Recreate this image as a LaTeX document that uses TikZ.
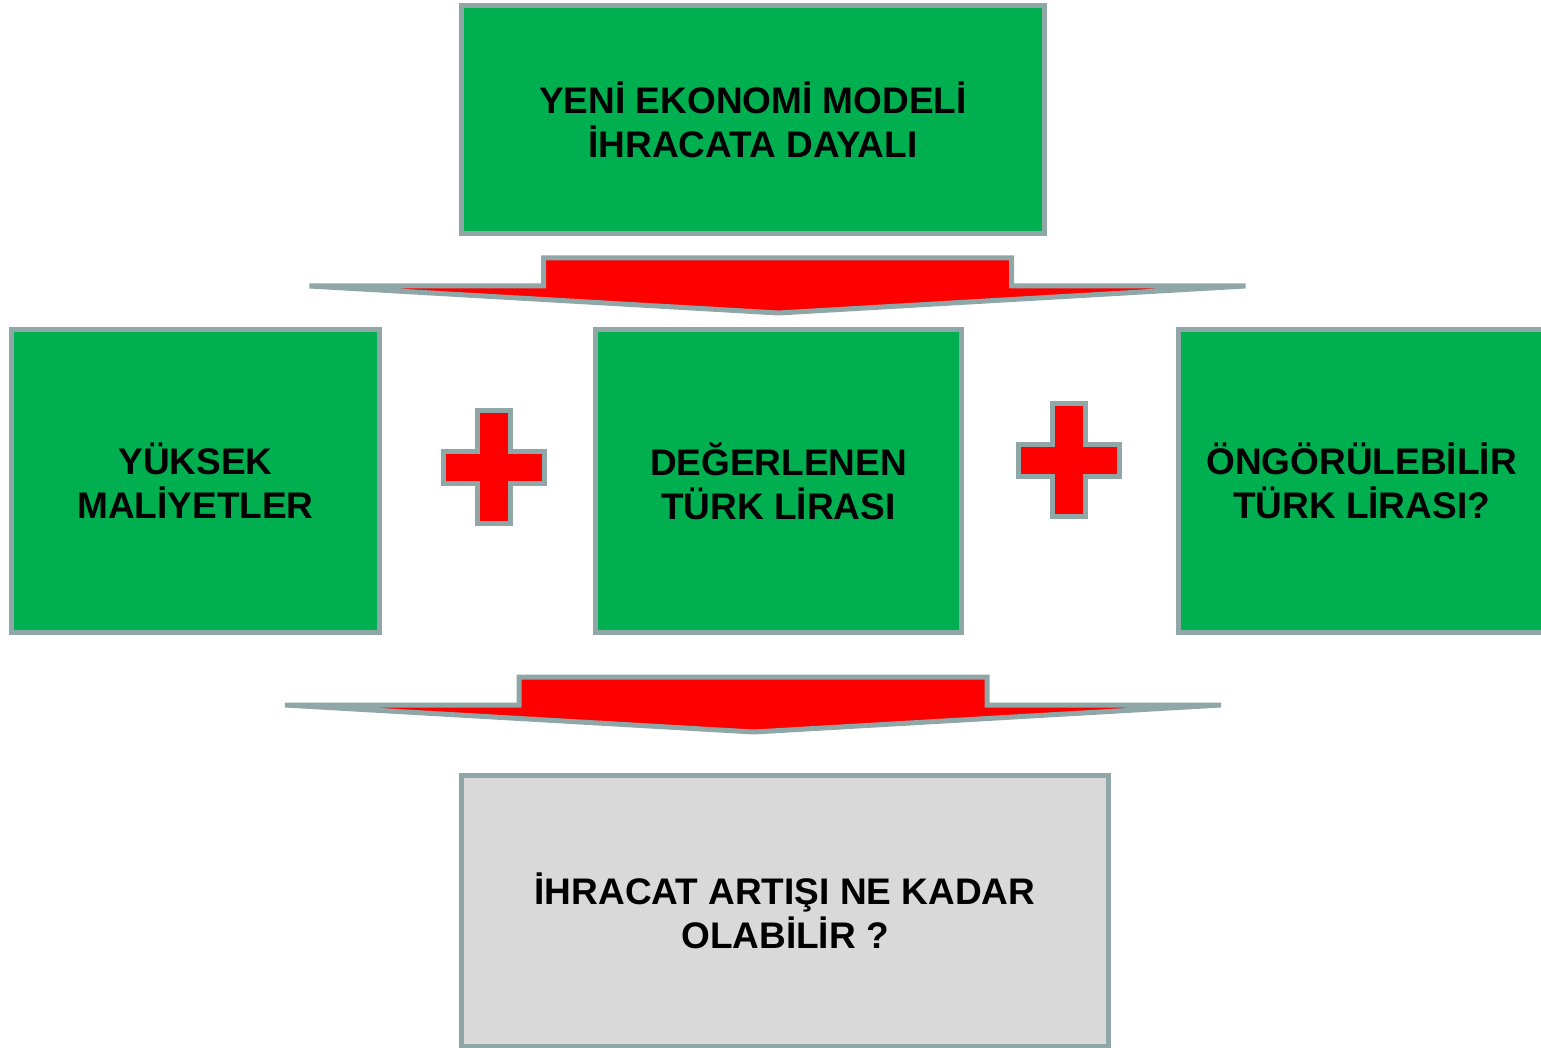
\documentclass[tikz,border=0pt]{standalone}
\usepackage{fontspec}
\setmainfont{Liberation Sans}
\usetikzlibrary{calc}
\definecolor{boxgreen}{HTML}{00B050}
\definecolor{edgegray}{HTML}{8FA7A7}
\definecolor{askgray}{HTML}{D9D9D9}
\newcommand{\kutufont}{\fontsize{37pt}{44pt}\selectfont\bfseries}

\begin{document}
\begin{tikzpicture}[x=1pt,y=-1pt,
  kutu/.style={draw=edgegray,line width=5pt,fill=boxgreen,align=center,font=\kutufont,inner sep=0pt},
  oku/.style={draw=edgegray,line width=5pt,fill=red},
  arti/.style={draw=edgegray,line width=5pt,fill=red}]
\useasboundingbox (0,0) rectangle (1541,1048);
%top box
\node[kutu,minimum width=583,minimum height=228] (model) at (753,120) {YENİ EKONOMİ MODELİ\\İHRACATA DAYALI};
%three boxes in the middle row
\node[kutu,minimum width=368,minimum height=302] (maliyet) at (195.5,481) {YÜKSEK\\MALİYETLER};
\node[kutu,minimum width=366,minimum height=302] (lira) at (778.5,481) {DEĞERLENEN\\TÜRK LİRASI};
\node[kutu,minimum width=366,minimum height=302] (ongoru) at (1361.5,481) {ÖNGÖRÜLEBİLİR\\TÜRK LİRASI?};
%bottom box
\node[kutu,fill=askgray,minimum width=647,minimum height=271] (soru) at (785,911) {İHRACAT ARTIŞI NE KADAR\\OLABİLİR ?};
% draw block arrows
\coordinate (tip1) at ($(lira.north)+(0,-14.5)$);
\coordinate (tip2) at ($(soru.north)+(-31,-41)$);
\foreach \t in {tip1,tip2}
\draw[oku] (\t) -- ++(-469,-27) -- ++(234,0) -- ++(0,-28) -- ++(468,0) -- ++(0,28) -- ++(234,0) -- cycle;
%draw plus signs between the boxes
\foreach \x/\y in {494/467,1069/460}
\draw[arti] (\x-16.5,\y-56.5) -- (\x+16.5,\y-56.5) -- (\x+16.5,\y-16) -- (\x+50.5,\y-16) -- (\x+50.5,\y+16) -- (\x+16.5,\y+16) -- (\x+16.5,\y+56.5) -- (\x-16.5,\y+56.5) -- (\x-16.5,\y+16) -- (\x-50.5,\y+16) -- (\x-50.5,\y-16) -- (\x-16.5,\y-16) -- cycle;
\end{tikzpicture}
\end{document}
